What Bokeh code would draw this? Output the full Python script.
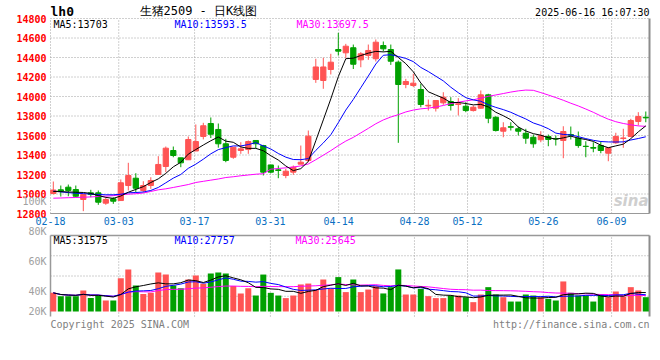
import pandas as pd
from bokeh.plotting import figure
from bokeh.models import Range1d, Label, ColumnDataSource
from bokeh.core.properties import value
from bokeh.embed import file_html
from bokeh.resources import INLINE

# ---------------- data ----------------
dates = ["02-18", "02-19", "02-20", "02-21", "02-24", "02-25", "02-26", "02-27", "02-28",
         "03-03", "03-04", "03-05", "03-06", "03-07", "03-10", "03-11", "03-12", "03-13", "03-14",
         "03-17", "03-18", "03-19", "03-20", "03-21", "03-24", "03-25", "03-26", "03-27", "03-28",
         "03-31", "04-01", "04-02", "04-03", "04-07", "04-08", "04-09", "04-10", "04-11",
         "04-14", "04-15", "04-16", "04-17", "04-18", "04-21", "04-22", "04-23", "04-24", "04-25",
         "04-28", "04-29", "04-30", "05-06", "05-07", "05-08", "05-09",
         "05-12", "05-13", "05-14", "05-15", "05-16", "05-19", "05-20", "05-21", "05-22", "05-23",
         "05-26", "05-27", "05-28", "05-29", "05-30", "06-03", "06-04", "06-05", "06-06",
         "06-09", "06-10", "06-11", "06-12", "06-13", "06-16"]

opens = [13005, 13043, 13070, 13046, 12944, 13012, 13012, 12906, 12951, 12933,
         13087, 13162, 13036, 13087, 13200, 13282, 13446, 13371, 13351, 13441,
         13590, 13723, 13662, 13515, 13377, 13446, 13456, 13549, 13497, 13298,
         13248, 13190, 13224, 13306, 13344, 14175, 14164, 14277, 14482, 14448,
         14500, 14376, 14421, 14387, 14523, 14482, 14352, 14123, 14113, 14072,
         13903, 13880, 13935, 13949, 13918, 13900, 13856, 13880, 14017, 13787,
         13644, 13690, 13669, 13623, 13582, 13556, 13590, 13569, 13549, 13610,
         13572, 13490, 13477, 13497, 13418, 13525, 13569, 13590, 13744, 13787]

highs = [13128, 13087, 13097, 13087, 12995, 13043, 13036, 12967, 12967, 13149,
         13320, 13213, 13131, 13172, 13388, 13487, 13487, 13371, 13590, 13713,
         13730, 13785, 13723, 13566, 13480, 13531, 13549, 13549, 13504, 13298,
         13292, 13258, 13292, 13497, 13651, 14387, 14397, 14438, 14653, 14540,
         14533, 14455, 14533, 14585, 14564, 14533, 14369, 14181, 14233, 14130,
         13969, 13959, 14044, 13993, 13983, 13942, 13908, 14062, 14028, 13798,
         13736, 13736, 13692, 13669, 13610, 13644, 13610, 13600, 13695, 13692,
         13641, 13541, 13531, 13541, 13474, 13628, 13669, 13771, 13839, 13846]

lows = [12995, 12974, 12977, 12967, 12824, 12967, 12889, 12889, 12899, 12933,
        13036, 13018, 13018, 13053, 13200, 13224, 13377, 13275, 13351, 13441,
        13560, 13574, 13475, 13326, 13361, 13412, 13412, 13470, 13190, 13213,
        13162, 13162, 13197, 13306, 13326, 14140, 14079, 14226, 14420, 14393,
        14282, 14300, 14376, 14359, 14462, 14324, 13525, 14085, 14096, 13890,
        13856, 13846, 13915, 13856, 13805, 13839, 13846, 13874, 13726, 13641,
        13582, 13651, 13600, 13515, 13474, 13531, 13490, 13497, 13367, 13559,
        13474, 13377, 13428, 13418, 13336, 13515, 13474, 13582, 13703, 13736]

closes = [13041, 13029, 13036, 12977, 12995, 12995, 12916, 12944, 12926, 13115,
          13190, 13059, 13087, 13138, 13303, 13470, 13395, 13320, 13559, 13538,
          13700, 13613, 13515, 13344, 13480, 13463, 13538, 13515, 13224, 13224,
          13241, 13234, 13275, 13326, 13593, 14303, 14303, 14352, 14465, 14516,
          14331, 14438, 14472, 14557, 14489, 14362, 14123, 14154, 14137, 13918,
          13910, 13959, 13993, 13908, 13925, 13856, 13890, 14017, 13777, 13651,
          13679, 13685, 13644, 13572, 13515, 13600, 13559, 13564, 13641, 13603,
          13497, 13487, 13470, 13446, 13474, 13590, 13575, 13754, 13795, 13781]

# volume in thousands (K)
volumes = [39.1, 36.9, 36.9, 36.9, 40.7, 35.6, 37.3, 34.0, 34.0, 48.9,
           54.7, 44.0, 38.4, 39.1, 52.7, 51.3, 44.0, 42.2, 48.0, 50.7,
           45.1, 52.0, 52.7, 52.0, 43.6, 38.7, 42.2, 37.3, 51.3, 39.1,
           37.3, 35.6, 37.3, 44.7, 45.3, 41.0, 48.0, 42.0, 49.6, 39.6,
           48.0, 39.6, 41.3, 43.6, 38.7, 42.9, 54.7, 38.0, 38.0, 41.8,
           36.9, 35.6, 35.6, 37.3, 37.3, 36.2, 32.9, 38.0, 42.9, 38.0,
           36.2, 33.3, 33.3, 38.0, 37.3, 36.2, 35.1, 34.0, 46.7, 39.1,
           37.3, 37.3, 33.3, 38.0, 36.2, 40.0, 36.7, 42.9, 40.7, 36.2]

ma5_head = [13026, 13024, 13021, 13018]
ma10_head = [13030, 13022, 13014, 13008, 13004, 13000, 12995, 12992, 12992]
ma30_head = [12957, 12959, 12962, 12964, 12967, 12970, 12974, 12978, 12983, 12993,
             12998, 13003, 13010, 13026, 13043, 13053, 13067, 13082, 13097, 13118,
             13130, 13142, 13154, 13169, 13177, 13187, 13195, 13203, 13208]

price_ticks = [12800, 13000, 13200, 13400, 13600, 13800, 14000, 14200, 14400, 14600, 14800]
date_labels = ["02-18", "03-03", "03-17", "03-31", "04-14", "04-28", "05-12", "05-26", "06-09"]
vol_tick_values = [100, 80, 60, 40, 20]
vol_tick_labels = ["100K", "80K", "60K", "40K", "20K"]

header_symbol = "lh0"
header_title = "生猪2509 - 日K线图"
header_time = "2025-06-16 16:07:30"
price_ma_labels = ["MA5:13703", "MA10:13593.5", "MA30:13697.5"]
vol_ma_labels = ["MA5:31575", "MA10:27757", "MA30:25645"]
footer_left = "Copyright 2025 SINA.COM"
footer_right = "http://finance.sina.com.cn"

# ---------------- styling / geometry (page pixels) ----------------
RED = "#ff5454"
GREEN = "#00a000"
MA_COLORS = ["#000000", "#0000ff", "#ff00ff"]
GRID = "#a0a0a0"
BORDER = "#999999"
MONO = "DejaVu Sans Mono"
W, H = 656, 340

FRAME_L, FRAME_R = 50, 649
CANDLE0_PX, DAY_PX = 52.8, 7.5
P_TOP, P_BOT = 18, 213
V_TOP, V_BOT, V_FLOOR = 235, 316, 311
VOL_ZERO_PX, VOL_PX_PER_K = 351, 1.5


def dx(px):
    return (px - CANDLE0_PX) / DAY_PX


def dyp(py):
    return price_ticks[0] + (P_BOT - py) * (price_ticks[-1] - price_ticks[0]) / (P_BOT - P_TOP)


def dyv(py):
    return (VOL_ZERO_PX - py) / VOL_PX_PER_K


n = len(dates)
idx = list(range(n))
x_lo, x_hi = dx(FRAME_L), dx(FRAME_R)
step = (x_hi - x_lo) / (n - 1)
date_pos = [x_lo + dates.index(d) * step for d in date_labels]

cs = pd.Series(closes, dtype=float)
ma5 = cs.rolling(5).mean().tolist()
ma10 = cs.rolling(10).mean().tolist()
ma30 = cs.rolling(30).mean().tolist()
ma5[:len(ma5_head)] = ma5_head
ma10[:len(ma10_head)] = ma10_head
ma30[:len(ma30_head)] = ma30_head

vs = pd.Series(volumes, dtype=float)
vma5 = vs.rolling(5, min_periods=1).mean().tolist()
vma10 = vs.rolling(10, min_periods=1).mean().tolist()
vma30 = vs.rolling(30, min_periods=1).mean().tolist()

colors = [RED if c >= o else GREEN for o, c in zip(opens, closes)]
src = ColumnDataSource(dict(
    x=idx, h=highs, l=lows,
    btop=[max(o, c) for o, c in zip(opens, closes)],
    bbot=[min(o, c) for o, c in zip(opens, closes)],
    color=colors, vol=volumes,
    ma5=ma5, ma10=ma10, ma30=ma30, vma5=vma5, vma10=vma10, vma30=vma30,
))

p = figure(width=W, height=H, x_range=Range1d(dx(0), dx(W)), y_range=Range1d(dyp(H), dyp(0)),
           output_backend="svg", toolbar_location=None,
           x_axis_location=None, y_axis_location=None,
           min_border=0, min_border_left=0, min_border_right=0, min_border_top=0, min_border_bottom=0)
p.outline_line_color = None
p.grid.visible = False
p.extra_y_ranges = {"vol": Range1d(dyv(H), dyv(0))}

P0, P1 = price_ticks[0], price_ticks[-1]
v_top, v_bot, v_floor = dyv(V_TOP), dyv(V_BOT), dyv(V_FLOOR)

# ---------------- price panel frame & grid ----------------
p.segment(x0=x_lo, y0=price_ticks, x1=x_hi, y1=price_ticks,
          line_color=GRID, line_dash="1 2", line_width=1)
p.segment(x0=date_pos, y0=P0, x1=date_pos, y1=P1,
          line_color=GRID, line_dash="1 2", line_width=1)
p.segment(x0=x_lo, y0=P0, x1=x_hi, y1=P0, line_color=BORDER, line_width=1)
p.segment(x0=x_hi, y0=P0, x1=x_hi, y1=P1, line_color="#8c8c8c", line_width=2)

# candles and moving averages
p.segment(x0="x", y0="l", x1="x", y1="h", source=src, line_color="color", line_width=1)
p.vbar(x="x", width=0.7, top="btop", bottom="bbot", source=src,
       fill_color="color", line_color="color", line_width=1)
p.line("x", "ma30", source=src, line_color=MA_COLORS[2], line_width=1)
p.line("x", "ma10", source=src, line_color=MA_COLORS[1], line_width=1)
p.line("x", "ma5", source=src, line_color=MA_COLORS[0], line_width=1)

# price tick labels & date labels
p.text(x=dx(46), y=price_ticks, text=[str(t) for t in price_ticks],
       text_font=value(MONO), text_font_style="bold", text_font_size="10px",
       text_color="#ff0000", text_align="right", text_baseline="middle")
p.text(x=date_pos, y=dyp(220.5), text=date_labels,
       text_font=value(MONO), text_font_size="10px", text_color="#0a6fc2",
       text_align="center", text_baseline="middle")

# ---------------- volume panel ----------------
vol_grid = [v_bot + (v_top - v_bot) * k / 4 for k in (1, 2, 3)]
p.segment(x0=x_lo, y0=vol_grid, x1=x_hi, y1=vol_grid, y_range_name="vol",
          line_color=GRID, line_dash="1 2", line_width=1)
p.segment(x0=date_pos[1:], y0=v_bot, x1=date_pos[1:], y1=v_top, y_range_name="vol",
          line_color=GRID, line_dash="1 2", line_width=1)
p.segment(x0=x_lo, y0=v_top, x1=x_hi, y1=v_top, y_range_name="vol", line_color=BORDER, line_width=1.5)
p.segment(x0=x_lo, y0=v_bot, x1=x_lo, y1=v_top, y_range_name="vol", line_color=BORDER, line_width=1.5)
p.segment(x0=x_hi, y0=v_bot, x1=x_hi, y1=v_top, y_range_name="vol", line_color="#8c8c8c", line_width=2)

p.vbar(x="x", width=0.8, top="vol", bottom=v_floor, source=src, y_range_name="vol",
       fill_color="color", line_color=None)
p.line("x", "vma30", source=src, y_range_name="vol", line_color=MA_COLORS[2], line_width=1)
p.line("x", "vma10", source=src, y_range_name="vol", line_color=MA_COLORS[1], line_width=1)
p.line("x", "vma5", source=src, y_range_name="vol", line_color=MA_COLORS[0], line_width=1)

# volume scale labels: the lowest one is held at the panel floor
p.text(x=dx(46), y=[max(v, v_floor) for v in vol_tick_values], text=vol_tick_labels,
       y_range_name="vol", text_font=value(MONO), text_font_size="10px",
       text_color="#a0a0a0", text_align="right", text_baseline="middle")

# ---------------- texts ----------------
def put(text, px, py, color="#000000", size="10px", font=MONO, style="normal", align="left", yr=None):
    kw = dict(x=dx(px), text=text, text_font=font, text_font_size=size, text_color=color,
              text_font_style=style, text_align=align, text_baseline="middle")
    if yr == "vol":
        p.add_layout(Label(y=dyv(py), y_range_name="vol", **kw))
    else:
        p.add_layout(Label(y=dyp(py), **kw))


put(header_symbol, 50, 11, size="13px", style="bold")
put(header_title, 139, 10.5, size="12px")
put(header_time, 649, 11.5, align="right")
for lab, px, col in zip(price_ma_labels, [53, 174, 296], MA_COLORS):
    put(lab, px, 24, color=col)
put("sina", 648, 200, color="#cfcfcf", size="15px", font="DejaVu Sans", style="bold italic", align="right")
for lab, px, col in zip(vol_ma_labels, [53, 174, 295], MA_COLORS):
    put(lab, px, 239.5, color=col, yr="vol")
put(footer_left, 50, 323.5, color="#808080", yr="vol")
put(footer_right, 649, 323.5, color="#808080", align="right", yr="vol")

open("out.html", "w").write(file_html(p, INLINE, title="lh0"))
